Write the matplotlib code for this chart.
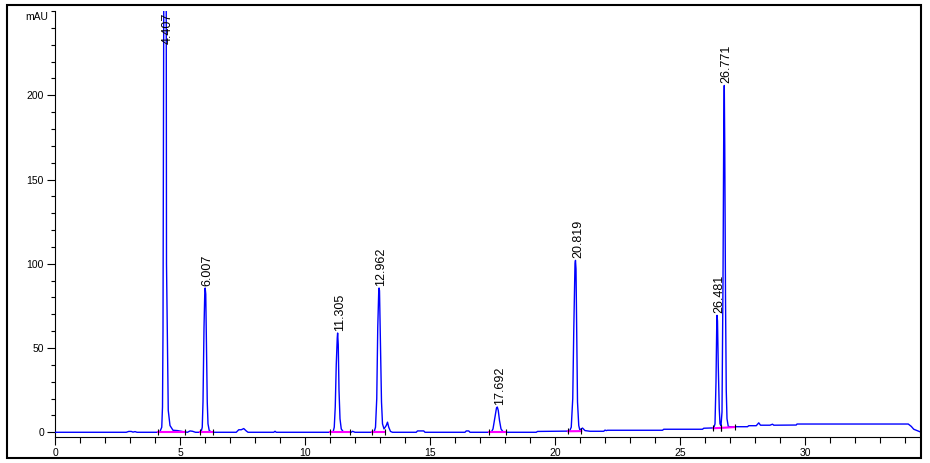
import matplotlib
matplotlib.use('Agg')
from matplotlib import pyplot as plt
from matplotlib.patches import Rectangle
from matplotlib.ticker import MultipleLocator, FixedLocator

plt.rcParams['font.family'] = ['Liberation Sans Narrow', 'Liberation Sans', 'DejaVu Sans']

# Chromatogram trace (time in min, signal in mAU)
time = [0.0, 2.85, 2.95, 3.05, 3.12, 3.2, 3.28, 4.10,
        4.20, 4.27, 4.30, 4.32, 4.35, 4.40, 4.45, 4.46, 4.53, 4.6, 4.72, 4.9, 5.15, 5.3, 5.4, 5.5, 5.62,
        5.84, 5.89, 5.92, 5.96, 5.99, 6.007, 6.03, 6.06, 6.09, 6.12, 6.17, 6.27,
        7.25, 7.35, 7.45, 7.55, 7.65, 7.72, 8.75, 8.8, 8.85,
        11.12, 11.17, 11.21, 11.25, 11.29, 11.305, 11.33, 11.36, 11.40, 11.45, 11.52, 11.62,
        11.85, 11.9, 12.0,
        12.76, 12.82, 12.87, 12.91, 12.95, 12.962, 12.98, 13.02, 13.06, 13.10, 13.16, 13.25, 13.3, 13.35, 13.42, 13.5,
        14.45, 14.5, 14.75, 14.8, 16.4, 16.45, 16.55, 16.6,
        17.45, 17.52, 17.6, 17.66, 17.692, 17.73, 17.78, 17.84, 17.92, 18.0,
        19.25, 19.3, 20.4,
        20.58, 20.65, 20.71, 20.75, 20.79, 20.80, 20.819, 20.84, 20.87, 20.90, 20.95, 20.99, 21.05, 21.1, 21.2, 21.4,
        21.95, 22.0, 22.05, 22.1, 24.3, 24.35, 25.9, 25.95, 26.3,
        26.35, 26.40, 26.44, 26.47, 26.481, 26.50, 26.53, 26.57, 26.60, 26.64, 26.68, 26.72, 26.75, 26.771, 26.79,
        26.82, 26.85, 26.88, 26.93, 27.0, 27.7, 27.75, 28.05, 28.15, 28.22, 28.6, 28.7, 28.75, 29.65, 29.68,
        34.13, 34.25, 34.35, 34.45, 34.6]
signal = [0.0, 0.0, 0.5, 0.5, 0.1, 0.4, 0.0, 0.0,
          0.5, 3, 15, 60, 250, 700, 250, 100, 13, 4, 1.2, 1.0, 0.3, 0.0, 0.8, 0.6, 0.0,
          0.0, 3, 18, 62, 82, 85.6, 82, 50, 18, 5, 1, 0.0,
          0.0, 1.5, 1.5, 2.2, 0.8, 0.0, 0.0, 0.6, 0.0,
          0.0, 3, 15, 40, 56, 58.9, 52, 25, 8, 2, 0.5, 0.0,
          0.0, 0.6, 0.0,
          0.0, 3, 20, 62, 84, 85.6, 84, 50, 18, 5, 2, 4, 6, 3, 0.5, 0.0,
          0.0, 0.8, 0.8, 0.0, 0.0, 0.8, 0.8, 0.0,
          0.0, 2, 9, 14.5, 15, 13, 7, 2, 0.3, 0.0,
          0.0, 0.5, 0.7,
          0.7, 3, 20, 60, 95, 100, 102, 97, 55, 18, 4, 1.5, 2, 2.5, 1.0, 0.6,
          0.6, 1.3, 1.0, 1.2, 1.2, 1.8, 1.8, 2.4, 2.6,
          2.6, 5, 30, 64, 69.4, 66, 40, 14, 5, 4, 12, 90, 180, 205.8, 170,
          80, 25, 8, 3.5, 3.3, 3.3, 3.9, 3.9, 5.6, 4.2, 4.2, 4.8, 4.2, 4.3, 4.9,
          4.9, 3.5, 1.8, 1.2, 0.3]

# Labelled peaks
peak_rt = [4.407, 6.007, 11.305, 12.962, 17.692, 20.819, 26.481, 26.771]
peak_height = [700, 85.6, 58.9, 85.6, 15.0, 102.0, 69.4, 205.8]
peak_text = ['4.407', '6.007', '11.305', '12.962', '17.692', '20.819', '26.481', '26.771']

# Integration baselines: start, end, level at start, level at end
base_start = [4.13, 5.80, 11.00, 12.67, 17.35, 20.52, 26.33, 26.63]
base_end = [5.20, 6.33, 11.80, 13.20, 18.05, 21.05, 26.63, 27.20]
base_y0 = [0.0, 0.0, 0.0, 0.0, 0.0, 0.6, 2.4, 2.6]
base_y1 = [0.0, 0.0, 0.0, 0.0, 0.0, 0.7, 2.6, 3.1]

fig = plt.figure(figsize=(9.3, 4.63), dpi=100)
ax = fig.add_axes([55 / 930, 26 / 463, 865 / 930, 426 / 463])

ax.plot(time, signal, color='#0000ff', lw=1.0, zorder=3)

# integration baselines and event marks
for s, e, y0, y1 in zip(base_start, base_end, base_y0, base_y1):
    ax.plot([s, e], [y0, y1], color='#ff00ff', lw=1.5, zorder=4)
    ax.plot([s, e], [y0, y1], ls='none', marker='|', color='black', ms=5, mew=0.8, zorder=4)

for t, h, s in zip(peak_rt, peak_height, peak_text):
    ax.annotate(s, xy=(t, min(h, 229)), xytext=(1.8, 1.8), textcoords='offset points',
                rotation=90, ha='center', va='bottom', fontsize=9, color='black',
                family=['Liberation Sans', 'DejaVu Sans'])

ax.set_xlim(0, 34.6)
ax.set_ylim(-2.8, 250)
ax.spines['top'].set_visible(False)
ax.spines['right'].set_visible(False)
ax.xaxis.set_major_locator(MultipleLocator(5))
ax.xaxis.set_minor_locator(MultipleLocator(1))
ax.yaxis.set_major_locator(FixedLocator([0, 50, 100, 150, 200]))
ax.yaxis.set_minor_locator(FixedLocator([10, 20, 30, 40, 60, 70, 80, 90, 110, 120, 130, 140,
                                         160, 170, 180, 190, 210, 220, 230, 240, 250]))
ax.tick_params(which='major', length=6, width=0.8, labelsize=7.5, pad=2)
ax.tick_params(which='minor', length=3, width=0.8)
ax.tick_params(axis='x', which='minor', length=4)

fig.text(48 / 930, 1 - 17 / 463, 'mAU', ha='right', va='center', fontsize=7.5)

# outer frame
fig.add_artist(Rectangle((7 / 930, 5 / 463), 914 / 930, 453 / 463, transform=fig.transFigure,
                         fill=False, lw=1.5, ec='black'))

plt.savefig('out.png', dpi=100)
